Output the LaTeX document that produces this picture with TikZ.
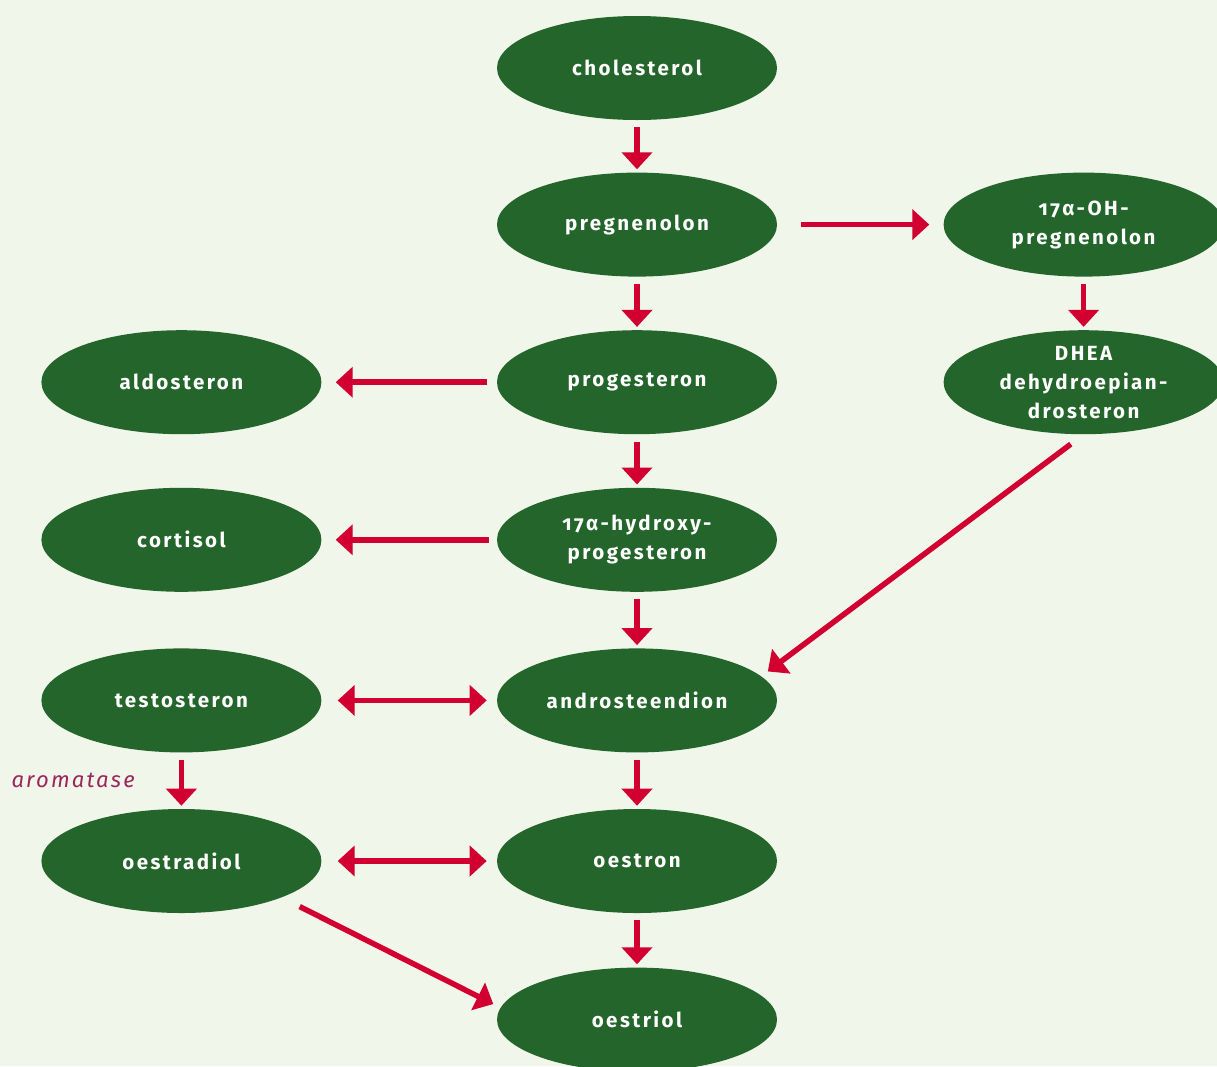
\documentclass[tikz,border=0pt]{standalone}
\usepackage{fontspec}
\setmainfont{Fira Sans}[Numbers=OldStyle]
\newfontfamily\steroidfont{Fira Sans}[Numbers=OldStyle, LetterSpace=12, BoldFont={Fira Sans Bold}]
\newfontfamily\enzymefont{Fira Sans}[LetterSpace=10]
\usetikzlibrary{arrows.meta,shapes.geometric,positioning}

\definecolor{paper}{RGB}{241,246,234}
\definecolor{steroidgreen}{RGB}{36,101,43}
\definecolor{arrowred}{RGB}{210,0,48}
\definecolor{labelpurple}{RGB}{155,38,89}

\begin{document}
\begin{tikzpicture}[x=1pt, y=-1pt, semithick]

    \tikzstyle{steroid} = [ellipse, minimum width=280pt, minimum height=104pt, inner sep=0pt, fill=steroidgreen, text=white, align=center, font={\steroidfont\bfseries\fontsize{20.5}{29}\selectfont}]
    \tikzstyle{arr}   = [color=arrowred, line width=5.5pt, -{Triangle[width=30pt, length=17pt, fill=arrowred]}, shorten <=7pt, shorten >=3pt]
    \tikzstyle{harr}  = [arr, shorten <=10pt, shorten >=14pt]
    \tikzstyle{darr}  = [arr, {Triangle[width=30pt, length=17pt, fill=arrowred]}-{Triangle[width=30pt, length=17pt, fill=arrowred]}, shorten <=16pt, shorten >=10pt]

    \fill[paper] (0,0) rectangle (1217,1066);
    \useasboundingbox (0,0) rectangle (1217,1066);

    % middle column
    \node (chol)   [steroid] at (637,68)          {cholesterol};
    \node (preg)   [steroid, below=52pt of chol]  {pregnenolon};
    \node (prog)   [steroid, below=53pt of preg]  {progesteron};
    \node (hprog)  [steroid, below=53pt of prog]  {17α-hydroxy-\\progesteron};
    \node (andro)  [steroid, below=56pt of hprog] {androsteendion};
    \node (estron) [steroid, below=56pt of andro] {oestron};
    \node (estriol)[steroid, below=54pt of estron]{oestriol};

    % left column
    \node (aldo)   [steroid, left=175pt of prog]   {aldosteron};
    \node (cort)   [steroid, left=175pt of hprog]  {cortisol};
    \node (testo)  [steroid, left=175pt of andro]  {testosteron};
    \node (estrad) [steroid, left=175pt of estron] {oestradiol};

    % right column
    \node (ohpreg) [steroid, right=166pt of preg] {17α-OH-\\pregnenolon};
    \node (dhea)   [steroid, inner ysep=-12pt, right=166pt of prog] {DHEA\\dehydroepian-\\drosteron};

    \draw[arr]  (chol)   -- (preg);
    \draw[arr]  (preg)   -- (prog);
    \draw[arr]  (prog)   -- (hprog);
    \draw[arr]  (hprog)  -- (andro);
    \draw[arr]  (andro)  -- (estron);
    \draw[arr]  (estron) -- (estriol);
    \draw[arr]  (ohpreg) -- (dhea);

    \draw[harr, shorten <=24pt] (preg)  -- (ohpreg);
    \draw[harr] (prog)  -- (aldo);
    \draw[harr, shorten <=8pt] (hprog) -- (cort);
    \draw[darr] (testo)  -- (andro);
    \draw[darr] (estrad) -- (estron);

    \draw[arr]  (testo) -- node[left=44pt, inner sep=0pt, text=labelpurple, font={\enzymefont\itshape\fontsize{22}{26}\selectfont}] {aromatase} (estrad);
    \draw[arr, shorten <=16pt, shorten >=8pt] (dhea.south) -- (andro.11);
    \draw[arr, shorten <=20pt, shorten >=8pt] (estrad.-20) -- (estriol.175);
\end{tikzpicture}
\end{document}
